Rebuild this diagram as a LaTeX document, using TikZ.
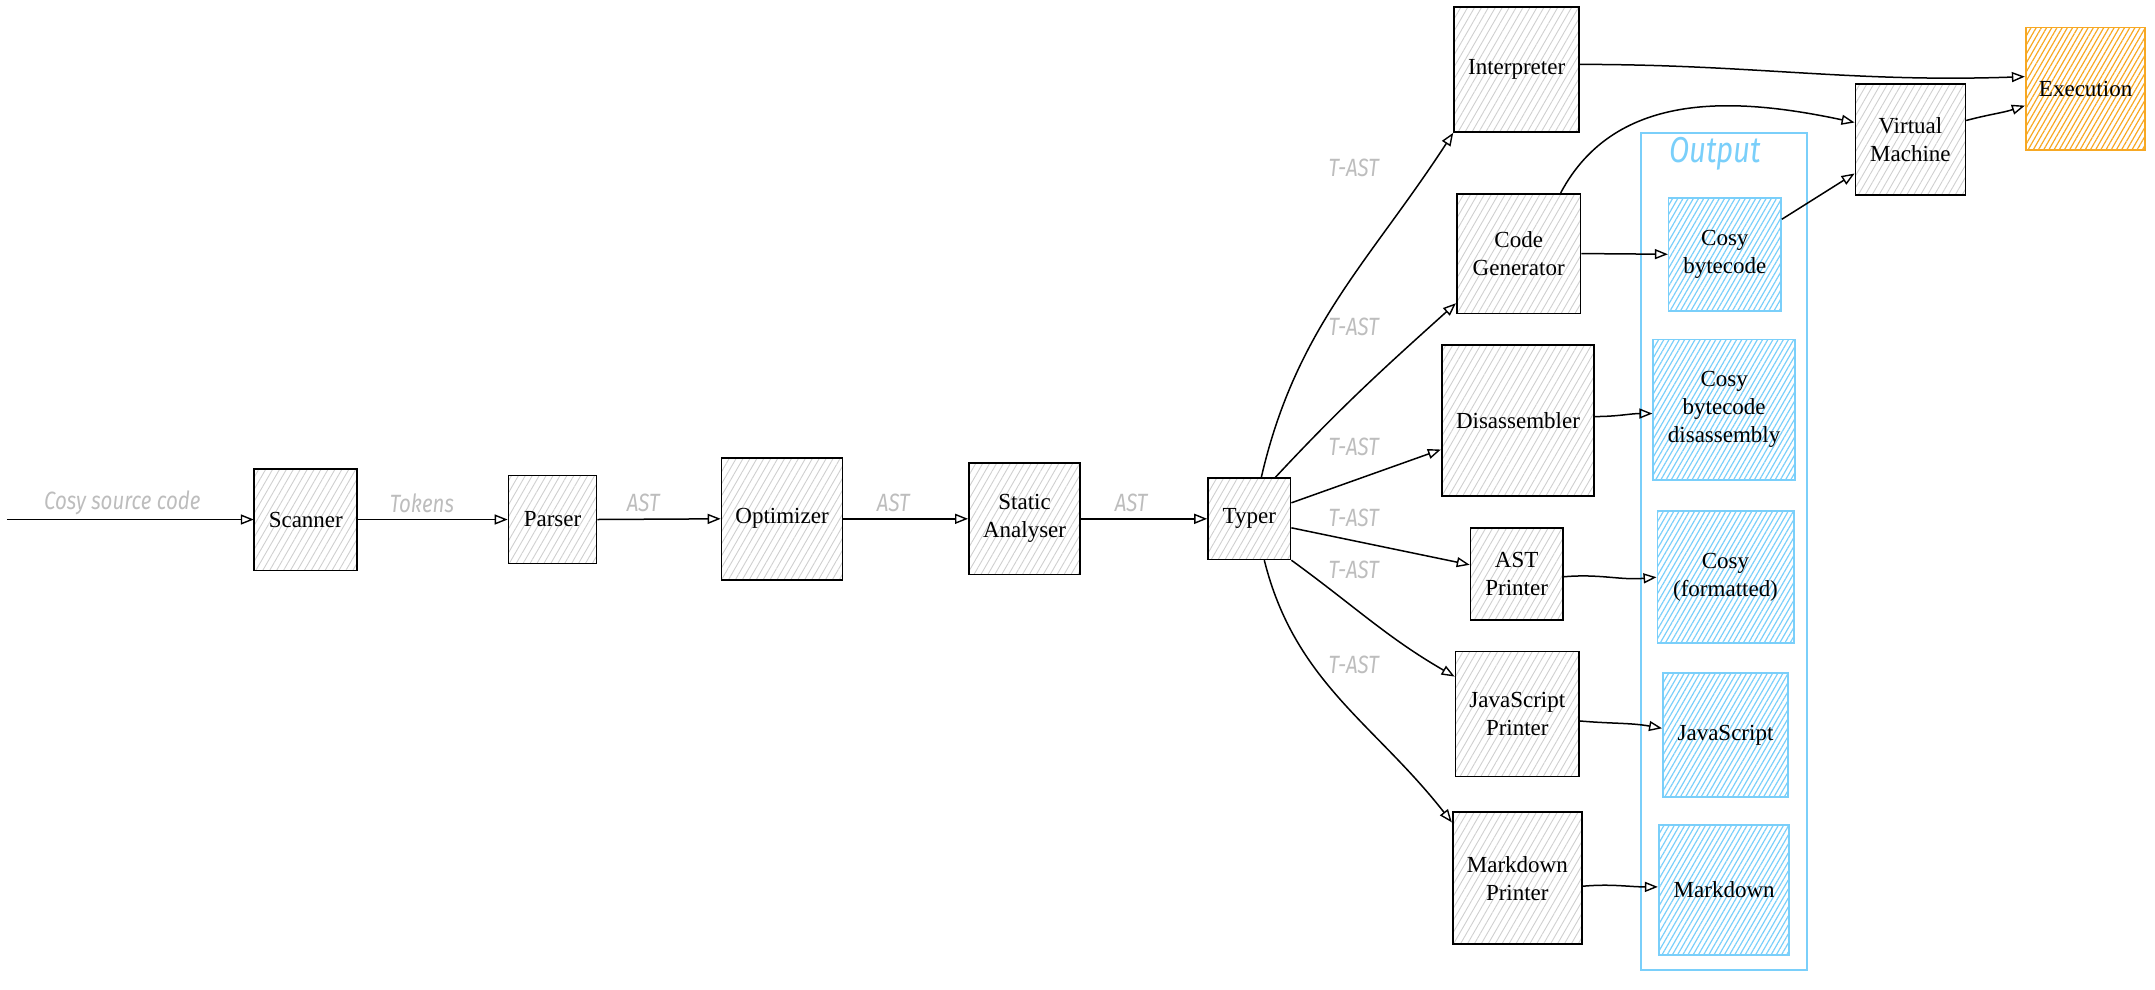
\documentclass[tikz,border=0pt]{standalone}
\usepackage{fontspec}
\setmainfont{Liberation Serif}
\newfontfamily\hand[FakeStretch=0.82]{Fira Sans}
\usetikzlibrary{arrows.meta,patterns.meta}
\definecolor{hatchgray}{HTML}{CFCFCF}
\definecolor{outblue}{HTML}{7ACFFA}
\definecolor{exorange}{HTML}{F7A823}
\definecolor{lblgray}{HTML}{BDBDBD}
\newcommand\bx[7]{\node[#7, minimum width={(#4-#2)*1.3744pt}, minimum height={(#5-#3)*1.3744pt}] (#1) at ({(#2+#4)/2},{(#3+#5)/2}) {#6};}
\tikzset{
  stagebox/.style={draw=black, line width=1.7pt, pattern={Lines[angle=60,distance=6pt,line width=0.9pt]}, pattern color=hatchgray, align=center, inner sep=1pt, font=\fontsize{23}{28}\selectfont},
  outbox/.style={draw=outblue, line width=1.9pt, pattern={Lines[angle=60,distance=4.5pt,line width=1.2pt]}, pattern color=outblue, align=center, inner sep=1pt, font=\fontsize{23}{28}\selectfont},
  execbox/.style={draw=exorange, line width=1.9pt, pattern={Lines[angle=60,distance=4.5pt,line width=1.2pt]}, pattern color=exorange, align=center, inner sep=1pt, font=\fontsize{23}{28}\selectfont},
  groupbox/.style={draw=outblue, line width=2pt, inner sep=0pt},
  conn/.style={line width=1.5pt, -{Triangle[open,length=13pt,width=10pt,line width=1.4pt]}},
  lbl/.style={text=lblgray, font=\hand\itshape\fontsize{25}{28}\selectfont, inner sep=0pt},
  grouplbl/.style={text=outblue, font=\hand\itshape\fontsize{36}{40}\selectfont, inner sep=0pt},
}
\begin{document}
\begin{tikzpicture}[x=1.3744pt,y=-1.3744pt]
\useasboundingbox (0,0) rectangle (1568,720);
% output group
\bx{outgrp}{1194}{97}{1315}{706}{}{groupbox}
\node[grouplbl] (outlbl) at (1248,112) {Output};
% main row
\bx{scan}{185}{341}{260}{415}{Scanner}{stagebox}
\bx{pars}{370}{346}{434}{410}{Parser}{stagebox}
\bx{opt}{525}{333}{613}{422}{Optimizer}{stagebox}
\bx{sa}{705}{337}{786}{418}{Static\\Analyser}{stagebox}
\bx{typer}{879}{348}{939}{407}{Typer}{stagebox}
% back ends
\bx{interp}{1058}{5}{1149}{96}{Interpreter}{stagebox}
\bx{codegen}{1060}{141}{1150}{228}{Code\\Generator}{stagebox}
\bx{disasm}{1049}{251}{1160}{361}{Disassembler}{stagebox}
\bx{astp}{1070}{384}{1137}{451}{AST\\Printer}{stagebox}
\bx{jsp}{1059}{474}{1149}{565}{JavaScript\\Printer}{stagebox}
\bx{mdp}{1057}{591}{1151}{687}{Markdown\\Printer}{stagebox}
% outputs
\bx{cosy}{1214}{144}{1296}{226}{Cosy\\bytecode}{outbox}
\bx{dsm}{1203}{247}{1306}{349}{Cosy\\bytecode\\disassembly}{outbox}
\bx{fmt}{1206}{372}{1305}{468}{Cosy\\(formatted)}{outbox}
\bx{js}{1210}{490}{1301}{580}{JavaScript}{outbox}
\bx{md}{1207}{600}{1302}{695}{Markdown}{outbox}
\bx{vm}{1350}{61}{1430}{142}{Virtual\\Machine}{stagebox}
\bx{exec}{1474}{20}{1561}{109}{Execution}{execbox}
% labels
\node[lbl] (l1) at (89,366) {Cosy source code};
\node[lbl] (l2) at (307,366) {Tokens};
\node[lbl] (l3) at (468,366) {AST};
\node[lbl] (l4) at (650,366) {AST};
\node[lbl] (l5) at (823,366) {AST};
\node[lbl] (t1) at (985,122) {T-AST};
\node[lbl] (t2) at (985,238) {T-AST};
\node[lbl] (t3) at (985,325) {T-AST};
\node[lbl] (t4) at (985,377) {T-AST};
\node[lbl] (t5) at (985,415) {T-AST};
\node[lbl] (t6) at (985,484) {T-AST};
% connectors
\coordinate (src) at (5,378);
\draw[conn] (src) -- (scan.west);
\draw[conn] (scan.east) -- (pars.west);
\draw[conn] (pars.east) -- (opt.west);
\draw[conn] (opt.east) -- (sa.west);
\draw[conn] (sa.east) -- (typer.west);
\draw[conn] ([xshift=12pt]typer.north) to[out=77,in=237] (interp.south west);
\draw[conn] ([xshift=26pt]typer.north) to[out=47,in=222] ([yshift=11pt]codegen.south west);
\draw[conn] ([yshift=16pt]typer.east) -- ([yshift=-29pt]disasm.west);
\draw[conn] ([yshift=-9pt]typer.east) -- ([yshift=9pt]astp.west);
\draw[conn] (typer.south east) to[out=-36,in=150] ([yshift=-26pt]jsp.north west);
\draw[conn] ([xshift=15pt]typer.south) to[out=-76,in=128] ([yshift=-11pt]mdp.north west);
\draw[conn] ([yshift=5pt]interp.east) to[out=0,in=182] ([yshift=12pt]exec.west);
\draw[conn] ([xshift=42pt]codegen.north) to[out=62,in=168] ([yshift=17pt]vm.west);
\draw[conn] (codegen.east) -- (cosy.west);
\draw[conn] ([yshift=-22pt]cosy.north east) -- ([yshift=-34pt]vm.west);
\draw[conn] ([yshift=19pt]vm.east) to[out=15,in=198] ([yshift=-17pt]exec.west);
\draw[conn] ([yshift=4pt]disasm.east) to[out=0,in=180] ([yshift=-4pt]dsm.west);
\draw[conn] ([yshift=-3pt]astp.east) to[out=5,in=185] (fmt.west);
\draw[conn] ([yshift=-7pt]jsp.east) to[out=-5,in=170] ([yshift=7pt]js.west);
\draw[conn] ([yshift=-8pt]mdp.east) to[out=5,in=180] ([yshift=3pt]md.west);
\end{tikzpicture}
\end{document}
